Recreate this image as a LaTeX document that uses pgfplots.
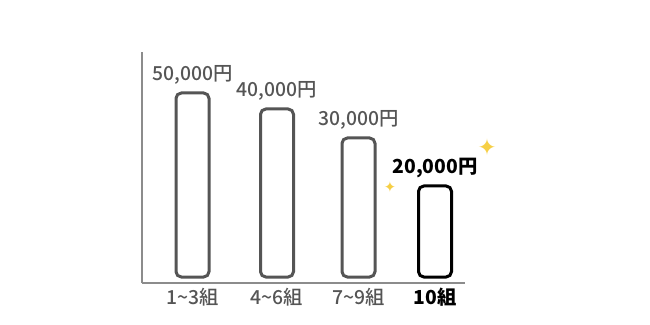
\documentclass[border=0pt]{standalone}
\usepackage{pgfplots}
\pgfplotsset{compat=1.18}
\usepackage{fontspec}
\setmainfont{Noto Sans CJK JP}
\newfontfamily\medfont{Noto Sans CJK JP Medium}
\newfontfamily\symfont{DejaVu Sans}
\definecolor{txtgray}{HTML}{555555}
\definecolor{axgray}{HTML}{8C8C8C}
\definecolor{sparkle}{HTML}{F6CF45}
\begin{document}
\begin{tikzpicture}[x=0.75pt,y=0.75pt]
\path (0,0) rectangle (650,325);
\begin{axis}[
  at={(142,42)}, anchor=south west,
  scale only axis, width=242.25pt, height=173.25pt,
  xmin=0, xmax=323, ymin=-6, ymax=225,
  axis x line*=bottom, axis y line*=left,
  axis line style={axgray, line width=1.1pt, -},
  ytick=\empty,
  xtick={50.5,135,216.5,293},
  xticklabels={1\textasciitilde3組,4\textasciitilde6組,7\textasciitilde9組,\textcolor{black}{\bfseries 10組}},
  major tick length=0pt,
  x tick label style={font=\medfont\fontsize{14.5}{16}\selectfont, text=txtgray, yshift=-0.5pt},
  clip=false,
  ybar, bar width=33, bar shift=0pt,
  nodes near coords, point meta=explicit symbolic,
  nodes near coords style={font=\medfont\fontsize{14.5}{16}\selectfont, text=txtgray, anchor=south, yshift=2pt},
]
\addplot[draw=txtgray, line width=2.25pt, fill=white, rounded corners=4pt] table[meta=label] {
x y label
50.5 184 50,000円
135 168 40,000円
216.5 139 30,000円
};
\addplot[draw=black, line width=2.25pt, fill=white, rounded corners=4pt,
  nodes near coords style={text=black, font=\fontsize{14.5}{16}\selectfont\bfseries}] table[meta=label] {
x y label
293 91 20,000円
};
\node[text=sparkle, font=\symfont\fontsize{17}{17}\selectfont] at (axis cs:345,130) {✦};
\node[text=sparkle, font=\symfont\fontsize{11}{11}\selectfont] at (axis cs:248,90) {✦};
\end{axis}
\end{tikzpicture}
\end{document}
